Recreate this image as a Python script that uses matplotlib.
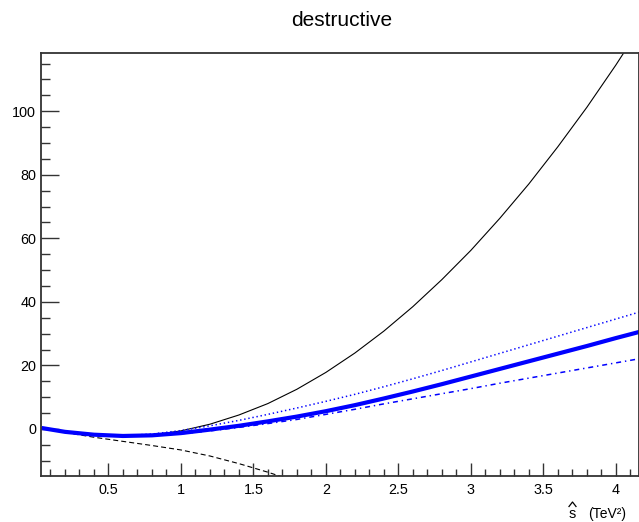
import matplotlib
matplotlib.use("Agg")
import matplotlib.pyplot as plt
from matplotlib.lines import Line2D
from matplotlib.ticker import MultipleLocator

plt.rcParams['font.family'] = ['Liberation Sans', 'DejaVu Sans']
plt.rcParams['lines.scale_dashes'] = False

# s-hat grid (TeV^2)
s_hat = [0.04, 0.2, 0.4, 0.6, 0.8, 1.0, 1.2, 1.4, 1.6, 1.8, 2.0,
         2.2, 2.4, 2.6, 2.8, 3.0, 3.2, 3.4, 3.6, 3.8, 4.0, 4.2]

# black curves
total = [0.3, -0.9, -2.0, -2.4, -1.9, -0.6, 1.5, 4.4, 8.0, 12.5, 17.8,
         23.9, 30.8, 38.5, 47.0, 56.2, 66.3, 77.1, 88.8, 101.2, 114.5, 128.6]
interference = [0.3, -1.1, -2.6, -3.9, -5.2, -6.6, -8.5, -10.9, -13.6, -16.6, -20.0]

# blue curves
blue_thick = [0.3, -0.9, -1.8, -2.2, -2.0, -1.3, -0.2, 1.0, 2.4, 3.9, 5.6,
              7.5, 9.6, 11.8, 14.1, 16.5, 18.9, 21.3, 23.7, 26.1, 28.6, 31.0]
blue_dotted = [0.3, -0.9, -1.8, -2.1, -1.6, -0.5, 1.0, 2.7, 4.6, 6.6, 8.7,
               10.9, 13.3, 15.8, 18.4, 21.1, 23.8, 26.5, 29.2, 31.9, 34.6, 37.3]
blue_dashdot = [0.3, -0.9, -1.8, -2.2, -2.1, -1.5, -0.6, 0.5, 1.7, 3.0, 4.6,
                6.2, 7.9, 9.5, 11.1, 12.7, 14.4, 16.0, 17.6, 19.2, 20.8, 22.4]

x_ticks = [0.5, 1, 1.5, 2, 2.5, 3, 3.5, 4]
x_tick_labels = ['0.5', '1', '1.5', '2', '2.5', '3', '3.5', '4']
y_ticks = [0, 20, 40, 60, 80, 100]
y_tick_labels = ['0', '20', '40', '60', '80', '100']

W, H = 639, 522
fig = plt.figure(figsize=(W / 100, H / 100), dpi=100)
ax = fig.add_axes([0.0642, 0.0881, 0.9358, 0.8103])

ax.plot(s_hat, total, color='black', lw=0.8)
ax.plot(s_hat[:len(interference)], interference, color='black', lw=0.8,
        dashes=[3.6, 2.2])
ax.plot(s_hat, blue_dotted, color='#0000ff', lw=1.1, dashes=[1.0, 2.0])
ax.plot(s_hat, blue_dashdot, color='#0000ff', lw=1.1, dashes=[3.6, 2.8, 1.0, 2.8])
ax.plot(s_hat, blue_thick, color='#0000ff', lw=3.0, solid_capstyle='butt')

ax.set_xlim(0.035, 4.16)
ax.set_ylim(-14.8, 118.3)

ax.set_xticks(x_ticks)
ax.set_xticklabels(x_tick_labels)
ax.set_yticks(y_ticks)
ax.set_yticklabels(y_tick_labels)
ax.xaxis.set_minor_locator(MultipleLocator(0.1))
ax.yaxis.set_minor_locator(MultipleLocator(5))

ax.tick_params(axis='both', which='both', direction='in', top=False, right=False,
               color='#333333', width=1.0, labelsize=10.4)
ax.tick_params(axis='x', which='major', length=9.4, pad=5)
ax.tick_params(axis='x', which='minor', length=5)
ax.tick_params(axis='y', which='major', length=13, pad=3.6)
ax.tick_params(axis='y', which='minor', length=6.5)

for sp in ax.spines.values():
    sp.set_color('#333333')
    sp.set_linewidth(1.3)

fig.text(0.534, 1 - 20 / H, 'destructive', ha='center', va='center', fontsize=15)

# x axis title: s with a hat, then the unit
base = 1 - 518 / H
fig.text(572.5 / W, base, 's', ha='center', va='baseline', fontsize=10.4)
fig.text(626 / W, base, '(TeV²)', ha='right', va='baseline', fontsize=10)
hat = Line2D([569 / W, 572.5 / W, 576 / W], [1 - 506.5 / H, 1 - 502 / H, 1 - 506.5 / H],
             transform=fig.transFigure, color='black', lw=0.9)
fig.lines.append(hat)

plt.savefig('out.png', dpi=100)
